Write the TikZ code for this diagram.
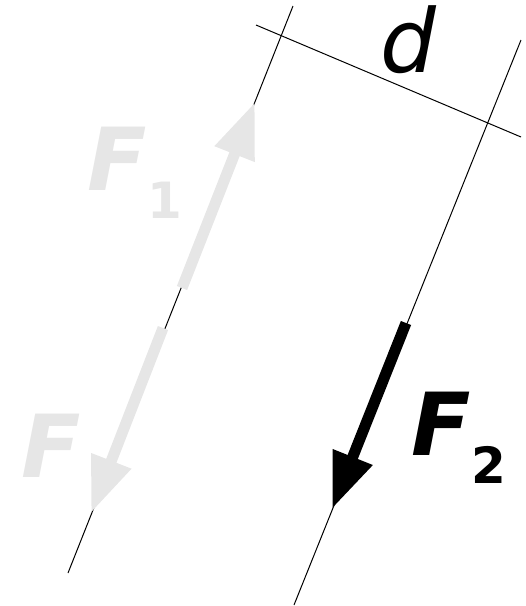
\documentclass[tikz,border=0pt]{standalone}
\usepackage{fontspec}
\setsansfont{DejaVu Sans}
\usetikzlibrary{arrows.meta}
\definecolor{ghost}{RGB}{230,230,230}
\begin{document}
\begin{tikzpicture}[x=1pt,y=-1pt,
  thin line/.style={line width=1pt,black},
  force/.style={line width=11pt,-{Triangle[length=56pt,width=40pt]}},
  flabel/.style={inner sep=0pt,anchor=base west,font=\sffamily\bfseries\itshape\fontsize{87}{90}\selectfont},
]
\useasboundingbox (0,0) rectangle (526,606);
% reference lines
\coordinate (L1a) at (68,573);
\coordinate (L1b) at (293,6);
\coordinate (L2a) at (294,605);
\coordinate (L2b) at (521,40);
\coordinate (D1) at (256,25);
\coordinate (D2) at (521,137);
\draw[thin line] (L1a) -- (L1b);
\draw[thin line] (L2a) -- (L2b);
\draw[thin line] (D1) -- (D2);
% arrows
\coordinate (A1s) at (182,288);
\coordinate (A1e) at (255,102);
\coordinate (Afs) at (163,328);
\coordinate (Afe) at (91,513);
\coordinate (A2s) at (406,323);
\coordinate (A2e) at (332,509);
\draw[force,ghost] (A1s) -- (A1e);
\draw[force,ghost] (Afs) -- (Afe);
\draw[force,black] (A2s) -- (A2e);
% labels
\node[inner sep=0pt,anchor=base west,font=\sffamily\itshape\fontsize{88}{90}\selectfont] (dlab) at (380,72) {d};
\node[flabel,ghost] (f1lab) at (87,190) {F\kern1pt\raisebox{-28pt}{\upshape\fontsize{50}{50}\selectfont 1}};
\node[flabel,ghost] (flab) at (21,477) {F};
\node[flabel,black] (f2lab) at (411,455) {F\kern1pt\raisebox{-28pt}{\upshape\fontsize{50}{50}\selectfont 2}};
\end{tikzpicture}
\end{document}
